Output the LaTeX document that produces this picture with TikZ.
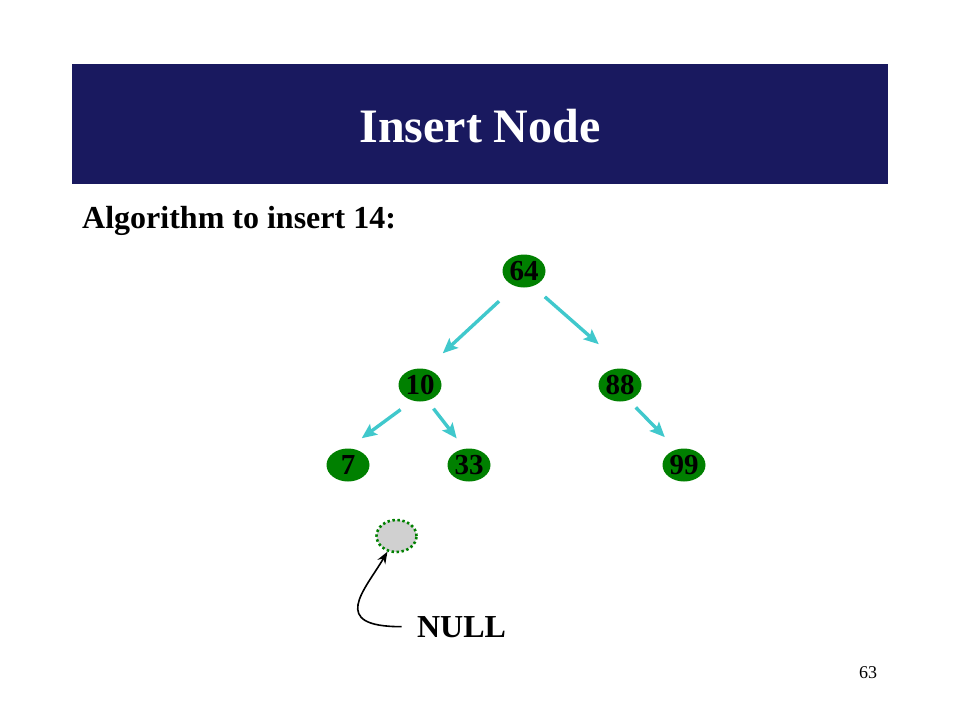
\documentclass[tikz,border=0pt]{standalone}
\usepackage{fontspec}
\setmainfont{Liberation Serif}
\usetikzlibrary{arrows.meta,shapes,positioning}

\definecolor{bannerblue}{RGB}{25,25,95}
\definecolor{keygreen}{RGB}{0,128,0}
\definecolor{linkcyan}{RGB}{64,200,204}
\definecolor{holegrey}{RGB}{208,208,208}

\begin{document}
\begin{tikzpicture}[x=1pt,y=-1pt]
  \tikzset{
  	key/.style={ellipse, fill=keygreen, minimum width=43pt, minimum height=33pt, inner sep=0pt, font=\fontsize{29}{29}\selectfont\bfseries},
  	hole/.style={ellipse, fill=holegrey, draw=keygreen, line width=2.6pt, dash pattern=on 2.4pt off 2.6pt, minimum width=40pt, minimum height=32pt, inner sep=0pt},
  	link/.style={draw=linkcyan, line width=3.4pt, -{Stealth[length=15pt,width=13pt,inset=3pt]}},
  }
  \useasboundingbox (0,0) rectangle (960,720);

  % Title banner and heading.
  \fill[bannerblue] (72,64) rectangle (888,184);
  \node[anchor=base, text=white, font=\fontsize{48}{48}\selectfont\bfseries] (title) at (480,142) {Insert Node};
  \node[anchor=base west, inner sep=0pt, font=\fontsize{32}{32}\selectfont\bfseries] (algo) at (82,228) {Algorithm to insert 14:};

  % The tree, one level at a time.
  \node[key] (n64) at (524,271) {64};
  \node[key] (n10) at (420,385) {10};
  \node[key] (n88) at (620,385) {88};
  \node[key] (n7)  at (348,465) {7};
  \node[key] (n33) at (469,465) {33};
  \node[key] (n99) at (684,465) {99};

  % Links between the keys.
  \draw[link, shorten <=22pt, shorten >=23pt] (n64.-120) -- (n10.70);
  \draw[link, shorten <=16pt, shorten >=38pt] (n64.-60) -- (n88.65);
  \draw[link, shorten <=15pt, shorten >=17pt] (n10.-115) -- (n7.90);
  \draw[link, shorten <=10pt, shorten >=13pt] (n10.-65) -- (n33.105);
  \draw[link, shorten <=10pt, shorten >=17pt] (n88.-60) -- (n99.115);

  % Empty spot where 14 goes.
  \node[hole] (null) at (396.5,536) {};
  \node[anchor=base, font=\fontsize{32}{32}\selectfont\bfseries] (nulltext) at (461.5,637) {NULL};
  \draw[line width=1.6pt, -{Stealth[length=12pt,width=9pt]}, shorten <=12pt]
    (nulltext.west) .. controls +(-85,0) and +(-23,39) .. (null.-120);

  \node[font=\fontsize{18}{18}\selectfont] (page) at (868,673) {63};
\end{tikzpicture}
\end{document}
